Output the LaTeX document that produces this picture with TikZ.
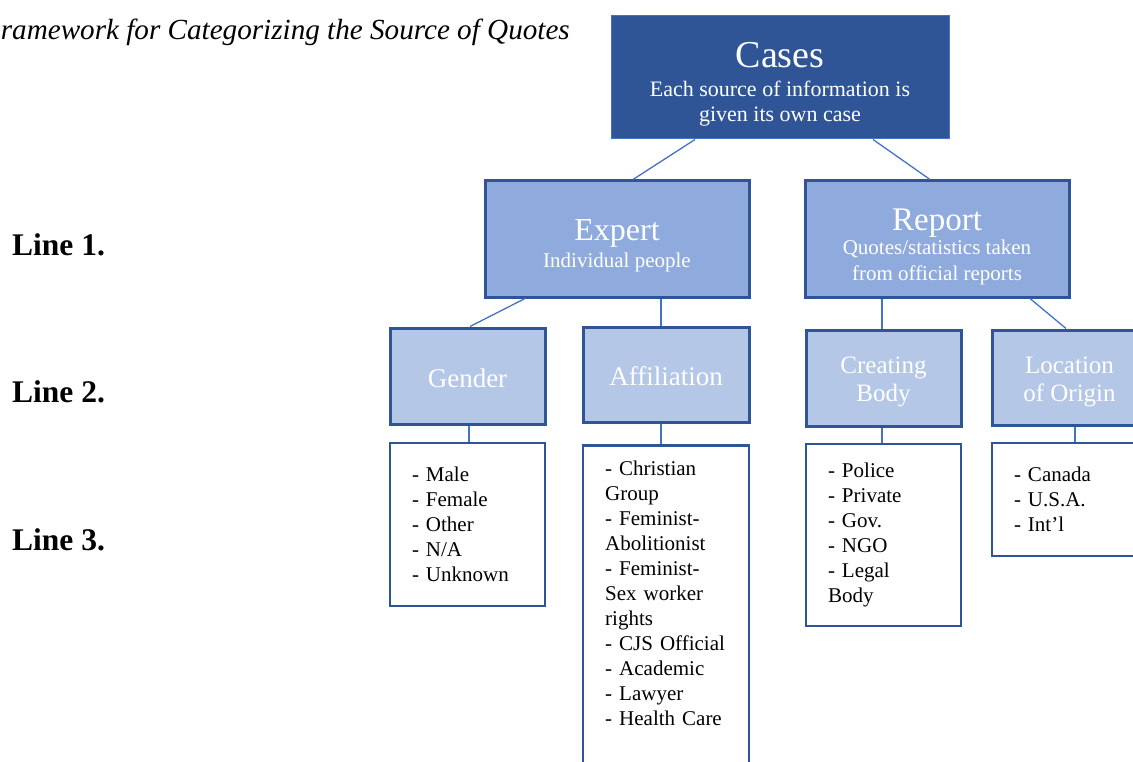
\documentclass[tikz,border=0pt]{standalone}
\usepackage{fontspec}
\setmainfont{Liberation Serif}
\usetikzlibrary{calc}
\definecolor{darkblue}{HTML}{2F5597}
\definecolor{midblue}{HTML}{8FAADC}
\definecolor{paleblue}{HTML}{B4C7E7}
\definecolor{linkblue}{HTML}{4472C4}
\tikzset{
 link/.style={draw=linkblue,line width=1.3pt},
 casebox/.style={shape=rectangle,fill=darkblue,draw=linkblue,line width=1pt,
   text=white,align=center,minimum width=338pt,inner sep=0pt,
   font=\fontsize{22}{25}\selectfont},
 kindbox/.style={shape=rectangle,fill=midblue,draw=darkblue,line width=3pt,
   text=white,align=center,minimum width=264pt,inner sep=0pt,
   font=\fontsize{21}{26}\selectfont},
 facetbox/.style={shape=rectangle,fill=paleblue,draw=darkblue,line width=3pt,
   text=white,align=center,minimum width=155pt,inner sep=0pt,
   font=\fontsize{25}{28}\selectfont},
 listbox/.style={shape=rectangle,fill=white,draw=darkblue,line width=2.5pt,
   minimum width=155pt,inner sep=0pt},
 listtext/.style={text=black,align=left,text width=111pt,inner sep=0pt,
   font=\fontsize{21}{25}\selectfont},
 rowlabel/.style={anchor=base west,inner sep=0pt,font=\fontsize{31.5}{36}\selectfont\bfseries}
}
\begin{document}
\begin{tikzpicture}[x=1pt,y=-1pt]
\useasboundingbox (0,0) rectangle (1133,762);
\clip (0,0) rectangle (1133,762);

\path (570,40) node[name=title,anchor=base east,inner sep=0pt,font=\fontsize{29.15}{34}\selectfont\itshape] {ramework for Categorizing the Source of Quotes};

\path (12,255) node[name=row1,rowlabel] {Line 1.};
\path (12,402) node[name=row2,rowlabel] {Line 2.};
\path (12,550) node[name=row3,rowlabel] {Line 3.};

%% top level
\path (780,77.5) node[name=cases,casebox,text height=105.5pt,text depth=17.5pt] {{\fontsize{38}{38}\selectfont Cases}\\[4pt]
  Each source of information is\\ given its own case};

%% two kinds of source
\path (617,239) node[name=expert,kindbox,text height=87pt,text depth=29pt] {{\fontsize{32}{32}\selectfont Expert}\\[2pt] Individual people};
\path (937,239) node[name=report,kindbox,text height=99pt,text depth=17pt] {{\fontsize{33}{33}\selectfont Report}\\[-2pt]
  Quotes/statistics taken\\ from official reports};

%% what is coded for each
\path (467.5,376) node[name=gender,facetbox,text height=59pt,text depth=37pt,font=\fontsize{27}{30}\selectfont] {Gender};
\path (666,374.5) node[name=affiliation,facetbox,minimum width=166pt,text height=58pt,text depth=37pt,font=\fontsize{27}{30}\selectfont] {Affiliation};
\path (883.5,378) node[name=creating,facetbox,text height=71pt,text depth=25pt] {Creating\\ Body};
\path (1069.5,377.5) node[name=location,facetbox,text height=71pt,text depth=24pt] {Location\\ of Origin};

%% the codes
\path (467.5,524.5) node[name=genderlist,listbox,listtext,minimum height=163pt] {- Male\\ - Female\\ - Other\\ - N/A\\ - Unknown};
\path (666,444) node[name=afflist,listbox,anchor=north,minimum width=166pt,minimum height=340pt] {};
\path (605,461) node[name=afftext,listtext,anchor=north west,text width=130pt] {- Christian\\ Group\\ - Feminist-\\ Abolitionist\\ - Feminist-\\ Sex worker\\ rights\\ - CJS Official\\ - Academic\\ - Lawyer\\ - Health Care};
\path (883.5,535) node[name=creatinglist,listbox,listtext,minimum height=182pt] {- Police\\ - Private\\ - Gov.\\ - NGO\\ - Legal\\ Body};
\path (1069.5,499.5) node[name=locationlist,listbox,listtext,minimum height=113pt] {- Canada\\ - U.S.A.\\ - Int'l};

%% tree lines
\path[link] ($(cases.south)+(-85,0)$) edge ($(expert.north)+(16,0)$);
\path[link] ($(cases.south)+(93,0)$) edge ($(report.north)+(-7,0)$);
\path[link] ($(expert.south)+(-92,0)$) edge ($(gender.north)+(2.5,0)$);
\path[link] ($(expert.south)+(44,0)$) edge ($(affiliation.north)+(-5,0)$);
\path[link] ($(report.south)+(-55,0)$) edge ($(creating.north)+(-1.5,0)$);
\path[link] ($(report.south)+(93,0)$) edge ($(location.north)+(-3.5,0)$);
\path[link] ($(gender.south)+(1.5,0)$) edge ($(genderlist.north)+(1.5,0)$);
\path[link] ($(affiliation.south)+(-5,0)$) edge ($(afflist.north)+(-5,0)$);
\path[link] ($(creating.south)+(-1.5,0)$) edge ($(creatinglist.north)+(-1.5,0)$);
\path[link] ($(location.south)+(5.5,0)$) edge ($(locationlist.north)+(5.5,0)$);
\end{tikzpicture}
\end{document}
